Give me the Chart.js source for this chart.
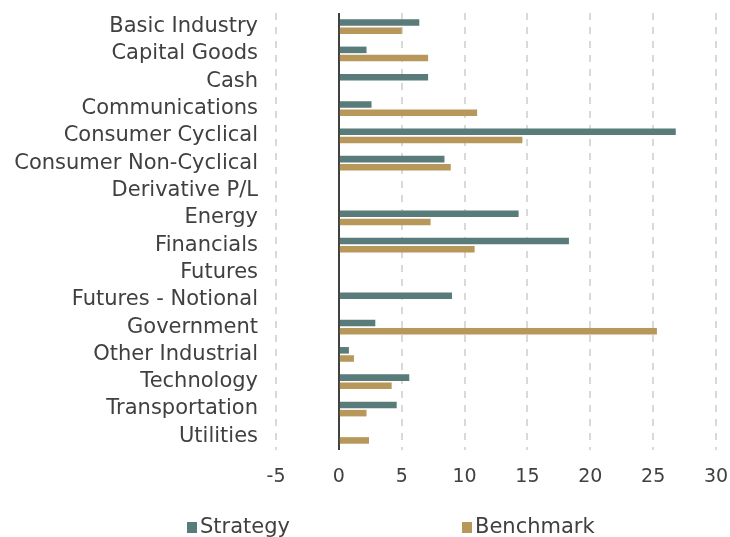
<!DOCTYPE html>
<html>
<head>
<meta charset="utf-8">
<script src="https://cdn.jsdelivr.net/npm/chart.js@4/dist/chart.umd.min.js"></script>
<style>
  html, body { margin: 0; padding: 0; background: #fff; }
  #wrap { width: 730px; height: 537px; position: relative; }
</style>
</head>
<body>
<div id="wrap"><canvas id="sectorChart"></canvas></div>
<script>
// 섹터 비중 데이터
const categories = ['Basic Industry', 'Capital Goods', 'Cash', 'Communications', 'Consumer Cyclical',
    'Consumer Non-Cyclical', 'Derivative P/L', 'Energy', 'Financials', 'Futures',
    'Futures - Notional', 'Government', 'Other Industrial', 'Technology', 'Transportation', 'Utilities'];
const strategyValues = [6.4, 2.2, 7.1, 2.6, 26.8, 8.4, 0, 14.3, 18.3, 0, 9.0, 2.9, 0.8, 5.6, 4.6, 0];
const benchmarkValues = [5.0, 7.1, 0, 11.0, 14.6, 8.9, 0, 7.3, 10.8, 0, 0, 25.3, 1.2, 4.2, 2.2, 2.4];
const xTicks = [-5, 0, 5, 10, 15, 20, 25, 30];

const strategyColor = 'rgb(89, 123, 121)';
const benchmarkColor = 'rgb(184, 152, 90)';
const textColor = '#404040';
const fontFamily = '"DejaVu Sans", sans-serif';

// 하단 범례 (간격이 넓어서 직접 그림)
const bottomLegend = {
    id: 'bottomLegend',
    afterDraw(chart) {
        const ctx = chart.ctx;
        const items = [
            { label: 'Strategy', color: strategyColor, x: 187 },
            { label: 'Benchmark', color: benchmarkColor, x: 462 }
        ];
        ctx.save();
        ctx.font = '21px ' + fontFamily;
        ctx.textBaseline = 'middle';
        items.forEach(function(item) {
            ctx.fillStyle = item.color;
            ctx.fillRect(item.x, 522, 10, 11);
            ctx.fillStyle = textColor;
            ctx.fillText(item.label, item.x + 13, 528);
        });
        ctx.restore();
    }
};

document.addEventListener('DOMContentLoaded', function() {
    const el = document.getElementById('sectorChart');
    new Chart(el, {
        type: 'bar',
        data: {
            labels: categories,
            datasets: [
                {
                    label: 'Strategy',
                    data: strategyValues,
                    backgroundColor: strategyColor,
                    categoryPercentage: 0.6,
                    barPercentage: 0.8
                },
                {
                    label: 'Benchmark',
                    data: benchmarkValues,
                    backgroundColor: benchmarkColor,
                    categoryPercentage: 0.6,
                    barPercentage: 0.8
                }
            ]
        },
        options: {
            indexAxis: 'y',
            responsive: true,
            maintainAspectRatio: false,
            animation: false,
            layout: {
                padding: { left: 0, right: 14, top: 13, bottom: 47 }
            },
            plugins: {
                legend: { display: false },
                tooltip: { enabled: false }
            },
            scales: {
                x: {
                    min: -5,
                    max: 30,
                    afterBuildTicks: function(scale) {
                        scale.ticks = xTicks.map(function(v) { return { value: v }; });
                    },
                    afterFit: function(scale) { scale.height = 40; },
                    ticks: {
                        color: textColor,
                        font: { family: fontFamily, size: 19 },
                        padding: 0,
                        maxRotation: 0
                    },
                    grid: {
                        drawTicks: true,
                        tickLength: 16,
                        tickColor: 'rgba(0,0,0,0)',
                        lineWidth: 2,
                        color: function(c) {
                            return c.tick && c.tick.value === 0 ? '#404040' : '#d9d9d9';
                        }
                    },
                    border: {
                        display: false,
                        dash: function(c) {
                            return c.tick && c.tick.value === 0 ? [] : [7, 7];
                        }
                    }
                },
                y: {
                    afterFit: function(scale) { scale.width = 276; },
                    ticks: {
                        color: textColor,
                        font: { family: fontFamily, size: 21 },
                        padding: 0,
                        autoSkip: false
                    },
                    grid: { display: false, drawTicks: true, tickLength: 18 },
                    border: { display: false }
                }
            }
        },
        plugins: [bottomLegend]
    });
});
</script>
</body>
</html>
